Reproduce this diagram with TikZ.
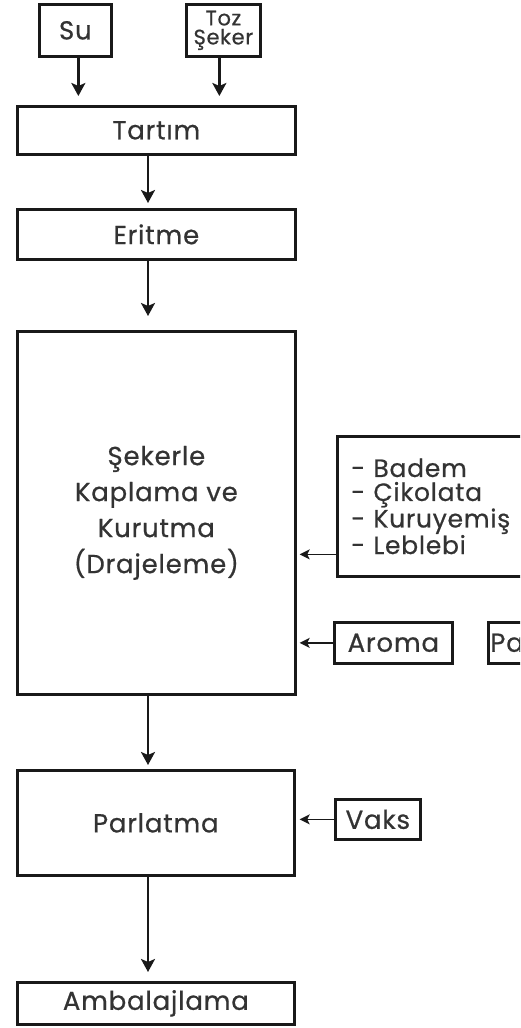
\documentclass[tikz,border=0pt]{standalone}
\usepackage{fontspec}
\setmainfont{Poppins}[LetterSpace=3,FakeBold=0.6]
\usetikzlibrary{arrows.meta,calc}
\begin{document}
\begin{tikzpicture}[x=1pt,y=-1pt,
  box/.style={draw=black!90,line width=2.7pt,inner sep=0pt,anchor=north west,text=black!80,
    font=\fontsize{26}{36}\selectfont},
  flow/.style={draw=black!90,line width=2.6pt,-{Stealth[length=13pt,width=14pt,inset=3pt]}},
  side/.style={draw=black!90,line width=1.6pt,-{Stealth[length=10pt,width=10pt,inset=2.5pt]},shorten >=3pt}
]
\useasboundingbox (0,0) rectangle (520,1028);
\clip (0,0) rectangle (520,1028);
\coordinate (sp) at (148,0);
% top inputs
\node[box,minimum width=72pt,minimum height=52pt] (su) at (38,3) {Su};
\node[box,minimum width=74pt,minimum height=52pt,align=center,
  font=\fontsize{21}{19}\selectfont] (toz) at (185,3) {Toz\\Şeker};
% main chain
\node[box,minimum width=278pt,minimum height=48pt] (tartim) at (16,105) {Tartım};
\node[box,minimum width=278pt,minimum height=50pt] (eritme) at (16,208) {Eritme};
\node[box,minimum width=278pt,minimum height=363pt,align=center] (seker) at (16,330)
  {Şekerle\\Kaplama ve\\Kurutma\\(Drajeleme)};
\node[box,minimum width=277pt,minimum height=105pt] (parlatma) at (16,769) {Parlatma};
\node[box,minimum width=277pt,minimum height=42pt] (ambalaj) at (16,981) {Ambalajlama};
% side inputs
\node[box,minimum width=194pt,minimum height=140pt,text width=166pt,inner xsep=14pt,
  align=left,font=\fontsize{25}{24}\selectfont] (badem) at (336,435)
  {- Badem\\- Çikolata\\- Kuruyemiş\\- Leblebi};
\node[box,minimum width=118pt,minimum height=41pt] (aroma) at (333,621) {Aroma};
\node[box,minimum width=43pt,minimum height=41pt,text width=39pt,inner xsep=2pt,align=left] (pa) at (487,621) {Pa};
\node[box,minimum width=85pt,minimum height=40pt] (vaks) at (334,798) {Vaks};
% connectors
\draw[flow,shorten >=9pt] ([xshift=3pt]su.south) -- ([xshift=3pt]su.south |- tartim.north);
\draw[flow,shorten >=9pt] ([xshift=-4pt]toz.south) -- ([xshift=-4pt]toz.south |- tartim.north);
\draw[flow,shorten >=5pt] (tartim.south -| sp) -- (eritme.north -| sp);
\draw[flow,shorten >=14pt] (eritme.south -| sp) -- (seker.north -| sp);
\draw[flow,shorten >=4pt] (seker.south -| sp) -- (parlatma.north -| sp);
\draw[flow,shorten >=9pt] (parlatma.south -| sp) -- (ambalaj.north -| sp);
\draw[side] ([yshift=-48pt]badem.west) -- ([yshift=-48pt]badem.west -| seker.east);
\draw[side] (aroma.west) -- (aroma.west -| seker.east);
\draw[side] (vaks.west) -- (vaks.west -| seker.east);
\end{tikzpicture}
\end{document}
